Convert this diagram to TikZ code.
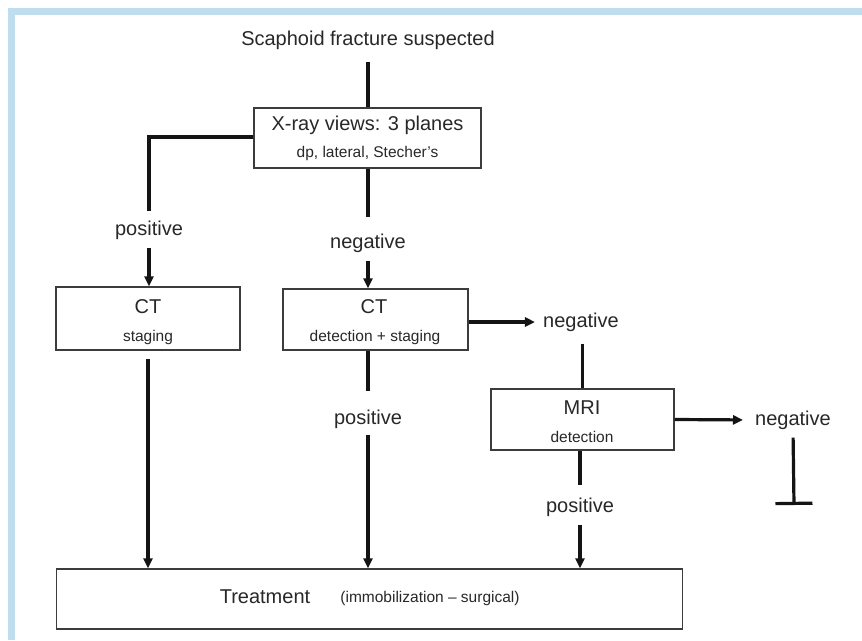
\documentclass[tikz,border=0pt]{standalone}
\usepackage{fontspec}
\setmainfont{Liberation Sans}
\usetikzlibrary{arrows.meta}
\definecolor{frameblue}{RGB}{190,221,238}
\definecolor{boxline}{RGB}{60,60,60}
\definecolor{txt}{RGB}{40,40,40}
\definecolor{lineclr}{RGB}{20,20,20}
\begin{document}
\begin{tikzpicture}[x=1pt,y=-1pt,
  conn/.style={line width=3.2pt, draw=lineclr},
  arr/.style={conn, -{Triangle[length=10pt,width=9pt]}},
  stopbar/.style={conn, -{Bar[width=37pt,line width=3.2pt]}},
  box/.style={draw=boxline, line width=1.3pt, inner sep=0pt, minimum height=61pt},
  lbl/.style={font=\fontsize{20}{24}\selectfont, text=txt, inner sep=0pt},
  sub/.style={font=\fontsize{15.5}{18}\selectfont, text=txt, inner sep=0pt}]
\useasboundingbox (0,0) rectangle (862,640);
\fill[white] (0,0) rectangle (862,640);
\fill[frameblue] (8,8) rectangle (862,15);
\fill[frameblue] (8,8) rectangle (15,640);

% title
\node[lbl] (title) at (368,40) {Scaphoid fracture suspected};

% boxes
\node[box, minimum width=227pt, minimum height=60pt] (xray) at (367.5,138) {};
\node[lbl] (xrayA) at (367.5,125) {X-ray views: 3 planes};
\node[sub] (xrayB) at (367.5,153) {dp, lateral, Stecher's};

\node[box, minimum width=184pt, minimum height=63pt] (ctL) at (148,318.5) {};
\node[lbl] (ctLA) at (148,307) {CT};
\node[sub] (ctLB) at (148,337) {staging};

\node[box, minimum width=185pt] (ctM) at (375.5,319.5) {};
\node[lbl] (ctMA) at (374,307) {CT};
\node[sub] (ctMB) at (375,337) {detection + staging};

\node[box, minimum width=183pt] (mri) at (582.5,419.5) {};
\node[lbl] (mriA) at (582,408) {MRI};
\node[sub] (mriB) at (582,437) {detection};

\node[box, minimum width=626pt, minimum height=60pt] (treat) at (369.5,599) {};
\node[lbl] (treatA) at (265,597) {Treatment};
\node[sub] (treatB) at (430,598) {(immobilization – surgical)};

% labels
\node[lbl] (posL) at (149,230) {positive};
\node[lbl] (negM) at (368,243) {negative};
\node[lbl] (negR) at (581,322) {negative};
\node[lbl] (posM) at (368,419) {positive};
\node[lbl] (negX) at (793,420) {negative};
\node[lbl] (posR) at (580,507) {positive};
\coordinate (stopc) at (794,505);

% connectors
\draw[conn, shorten <=12pt] (title.south) -- (xray.north -| title.south);
\draw[conn, shorten >=9pt] (xray.west |- 0,137) -| (posL.north);
\draw[arr, shorten <=8pt] (posL.south) -- (posL.south |- ctL.north);
\draw[conn, shorten >=16pt] (xray.south -| negM.north) -- (negM.north);
\draw[arr, shorten <=8pt] (negM.south) -- (negM.south |- ctM.north);
\draw[arr, shorten >=8pt] (ctM.east |- 0,322) -- (negR.west);
\draw[conn, shorten <=12pt] (negR.south -| mri.north) -- (mri.north);
\draw[arr, shorten >=12pt] (mri.east) -- (negX.west);
\draw[stopbar, shorten <=8pt] (negX.south) -- (stopc);
\draw[conn, shorten >=18pt] (ctM.south -| posM.north) -- (posM.north);
\draw[arr, shorten <=6pt] (posM.south) -- (posM.south |- treat.north);
\draw[arr, shorten <=8pt] (ctL.south) -- (ctL.south |- treat.north);
\draw[conn, shorten >=12pt] (mri.south -| posR.north) -- (posR.north);
\draw[arr, shorten <=8pt] (posR.south) -- (posR.south |- treat.north);
\end{tikzpicture}
\end{document}
